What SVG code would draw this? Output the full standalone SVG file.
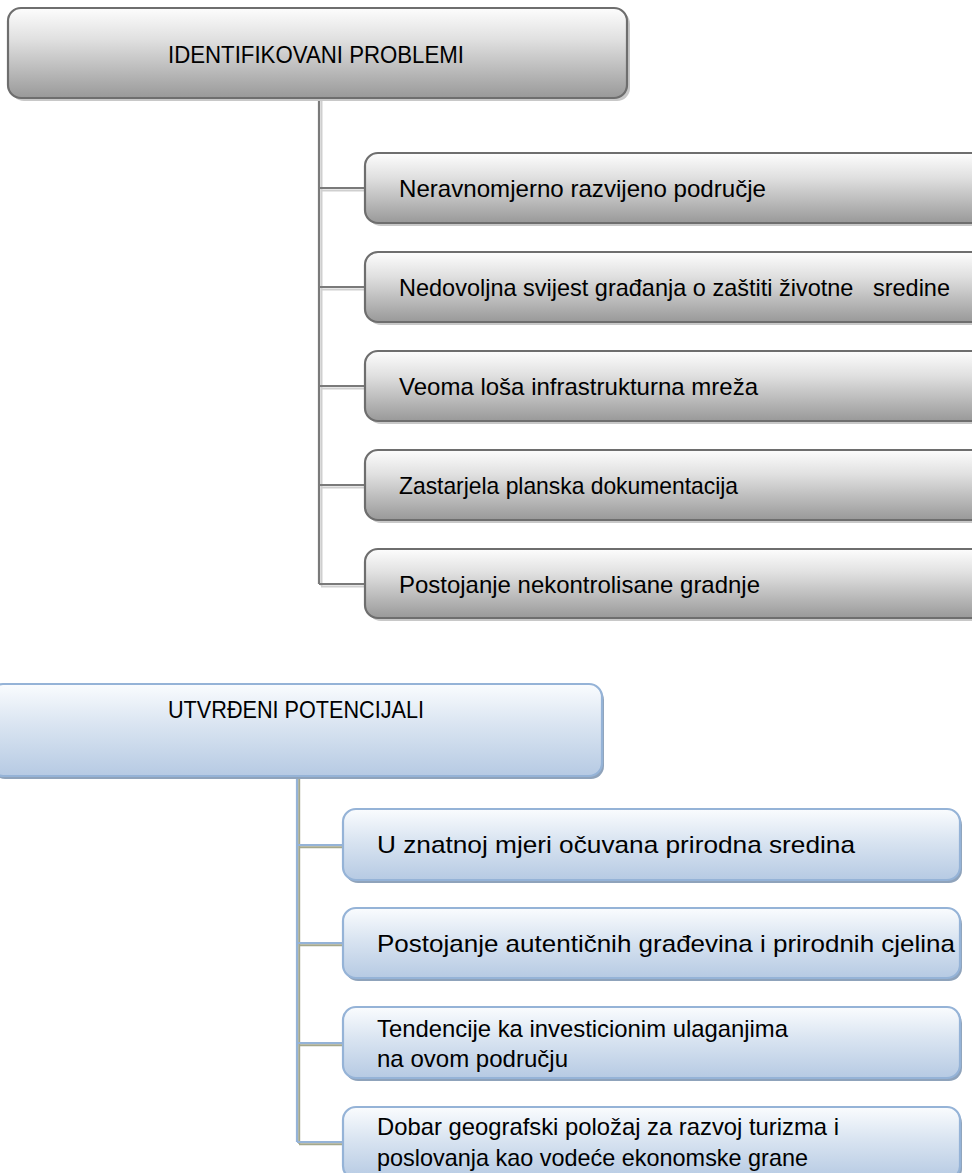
<svg xmlns="http://www.w3.org/2000/svg" width="972" height="1173" viewBox="0 0 972 1173">
<defs>
<linearGradient id="gGray" x1="0" y1="0" x2="0" y2="1">
<stop offset="0" stop-color="#fdfdfd"/>
<stop offset="0.35" stop-color="#e0e0e0"/>
<stop offset="1" stop-color="#999999"/>
</linearGradient>
<linearGradient id="gBlue" x1="0" y1="0" x2="0" y2="1">
<stop offset="0" stop-color="#fafcfe"/>
<stop offset="0.45" stop-color="#d9e4f1"/>
<stop offset="1" stop-color="#b6cae3"/>
</linearGradient>
<style>
.gbox{fill:url(#gGray);stroke:#6e6e6e;stroke-width:2.2}
.gsh{fill:#c8c8c8}
.bbox{fill:url(#gBlue);stroke:#95b3d7;stroke-width:2.2}
.bsh{fill:#8fa3bb}
.t{font-family:"Liberation Sans",Arial,sans-serif;font-size:24px;fill:#000;white-space:pre}
.gl{stroke:#7a7a7a;stroke-width:2.2;fill:none}
.gls{stroke:#cfcfcf;stroke-width:2;fill:none}
.bl{stroke:#95b3d7;stroke-width:2.2;fill:none}
.bls{stroke:#a4a78c;stroke-width:2;fill:none}
</style>
</defs>
<g id="connectors">
<g id="conn-top">
<path class="gls" d="M321.5 100 V586 M321 190.5 H365 M321 289.5 H365 M321 388.5 H365 M321 487.5 H365 M321 586.5 H365"/>
<path class="gl" d="M319 98 V584 M319 188 H365 M319 287 H365 M319 386 H365 M319 485 H365 M319 584 H365"/>
</g>
<g id="conn-bottom">
<path class="bls" d="M299.2 778 V1144 M299 847.2 H343 M299 945.2 H343 M299 1045.2 H343 M299 1144.2 H343"/>
<path class="bl" d="M297 776 V1142 M297 845 H343 M297 943 H343 M297 1043 H343 M297 1142 H343"/>
</g>
</g>
<g id="n-problemi">
<rect class="gsh" x="11" y="11" width="619" height="90" rx="13"/>
<rect class="gbox" x="8" y="8" width="619" height="90" rx="13"/>
<text class="t" x="168" y="63" textLength="296" lengthAdjust="spacingAndGlyphs">IDENTIFIKOVANI PROBLEMI</text>
</g>
<g id="n-p1">
<rect class="gsh" x="368" y="156" width="630" height="70" rx="13"/>
<rect class="gbox" x="365" y="153" width="630" height="70" rx="13"/>
<text class="t" x="399" y="197" textLength="367" lengthAdjust="spacingAndGlyphs">Neravnomjerno razvijeno područje</text>
</g>
<g id="n-p2">
<rect class="gsh" x="368" y="255" width="630" height="70" rx="13"/>
<rect class="gbox" x="365" y="252" width="630" height="70" rx="13"/>
<text class="t" x="399" y="296" textLength="551" lengthAdjust="spacingAndGlyphs">Nedovoljna svijest građanja o zaštiti životne   sredine</text>
</g>
<g id="n-p3">
<rect class="gsh" x="368" y="354" width="630" height="70" rx="13"/>
<rect class="gbox" x="365" y="351" width="630" height="70" rx="13"/>
<text class="t" x="399" y="395" textLength="359" lengthAdjust="spacingAndGlyphs">Veoma loša infrastrukturna mreža</text>
</g>
<g id="n-p4">
<rect class="gsh" x="368" y="453" width="630" height="70" rx="13"/>
<rect class="gbox" x="365" y="450" width="630" height="70" rx="13"/>
<text class="t" x="399" y="494" textLength="339" lengthAdjust="spacingAndGlyphs">Zastarjela planska dokumentacija</text>
</g>
<g id="n-p5">
<rect class="gsh" x="368" y="552" width="630" height="69" rx="13"/>
<rect class="gbox" x="365" y="549" width="630" height="69" rx="13"/>
<text class="t" x="399" y="593" textLength="361" lengthAdjust="spacingAndGlyphs">Postojanje nekontrolisane gradnje</text>
</g>
<g id="n-potencijali">
<rect class="bsh" x="-8" y="687" width="612" height="92" rx="13"/>
<rect class="bbox" x="-10" y="684" width="612" height="92" rx="13"/>
<text class="t" x="168" y="718" textLength="256" lengthAdjust="spacingAndGlyphs">UTVRĐENI POTENCIJALI</text>
</g>
<g id="n-u1">
<rect class="bsh" x="345" y="812" width="617" height="71" rx="13"/>
<rect class="bbox" x="343" y="809" width="617" height="71" rx="13"/>
<text class="t" x="377" y="853" textLength="478" lengthAdjust="spacingAndGlyphs">U znatnoj mjeri očuvana prirodna sredina</text>
</g>
<g id="n-u2">
<rect class="bsh" x="345" y="911" width="617" height="70" rx="13"/>
<rect class="bbox" x="343" y="908" width="617" height="70" rx="13"/>
<text class="t" x="377" y="952" textLength="578" lengthAdjust="spacingAndGlyphs">Postojanje autentičnih građevina i prirodnih cjelina</text>
</g>
<g id="n-u3">
<rect class="bsh" x="345" y="1010" width="617" height="71" rx="13"/>
<rect class="bbox" x="343" y="1007" width="617" height="71" rx="13"/>
<text class="t" x="377" y="1037" textLength="411" lengthAdjust="spacingAndGlyphs">Tendencije ka investicionim ulaganjima</text>
<text class="t" x="377" y="1067" textLength="191" lengthAdjust="spacingAndGlyphs">na ovom području</text>
</g>
<g id="n-u4">
<rect class="bsh" x="345" y="1110" width="617" height="72" rx="13"/>
<rect class="bbox" x="343" y="1107" width="617" height="72" rx="13"/>
<text class="t" x="377" y="1135" textLength="462" lengthAdjust="spacingAndGlyphs">Dobar geografski položaj za razvoj turizma i</text>
<text class="t" x="377" y="1166" textLength="431" lengthAdjust="spacingAndGlyphs">poslovanja kao vodeće ekonomske grane</text>
</g>
</svg>
